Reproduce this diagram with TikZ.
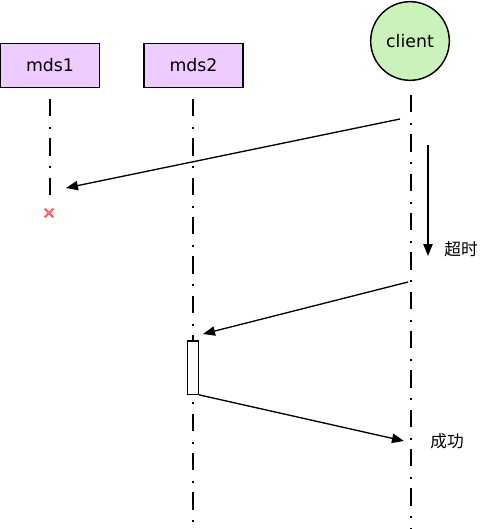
\documentclass[tikz,border=0pt]{standalone}
\usepackage{fontspec}
\setmainfont{DejaVu Sans}
\newfontfamily\cjk{Noto Sans CJK SC}
\usetikzlibrary{arrows.meta}

\definecolor{mdsfill}{HTML}{EECCFF}
\definecolor{clientfill}{HTML}{CCF2BB}
\definecolor{lostred}{HTML}{FF6666}

\begin{document}
\begin{tikzpicture}[x=0.75pt,y=-0.75pt,
    server/.style={draw,line width=1.2pt,fill=mdsfill,minimum width=74pt,minimum height=33pt,font=\fontsize{13}{15}\selectfont},
    lifeline/.style={line width=1pt,dash pattern=on 13pt off 8pt on 1.5pt off 7pt},
    msg/.style={line width=1pt,-{Triangle[length=9pt,width=7pt]}},
    note/.style={font=\cjk\fontsize{12.5}{14}\selectfont}]
    \useasboundingbox (0,0) rectangle (480,529);

    \node [server] (mds1) at (50,65.5) {mds1};
    \node [server] (mds2) at (193.5,65.5) {mds2};
    \node [draw,circle,line width=1.1pt,fill=clientfill,minimum size=59pt,inner sep=0pt,font=\fontsize{13}{15}\selectfont] (client) at (410,41) {client};

    % lifelines
    \coordinate (mds1end) at (50,198);
    \coordinate (mds2end) at (193,529);
    \coordinate (clientend) at (411,529);
    \draw [lifeline] (50,99) -- (mds1end);
    \draw [lifeline] (193,99) -- (mds2end);
    \draw [lifeline] (411,95) -- (clientend);

    % lost message
    \node [minimum size=6pt,inner sep=0pt] (lost) at (49,213) {};
    \draw [lostred,line width=1.6pt] (lost.north west) -- (lost.south east)
        (lost.north east) -- (lost.south west);

    % first request
    \coordinate (req1) at (400,119);
    \coordinate (recv1) at (66,188);
    \draw [msg] (req1) -- (recv1);

    % timeout
    \coordinate (tstart) at (428,145);
    \coordinate (tend) at (428,256);
    \draw [msg] (tstart) -- (tend);
    \node [note] (timeout) at (461,249) {超时};

    % retry on mds2
    \coordinate (req2) at (408,282);
    \coordinate (recv2) at (203,334);
    \draw [msg] (req2) -- (recv2);
    \node [draw,line width=1pt,fill=white,minimum width=8pt,minimum height=40pt,inner sep=0pt] (act) at (193,367.5) {};

    \coordinate (reply) at (404,441);
    \draw [msg] (act.south east) -- (reply);
    \node [note] (ok) at (447,441) {成功};
\end{tikzpicture}
\end{document}
